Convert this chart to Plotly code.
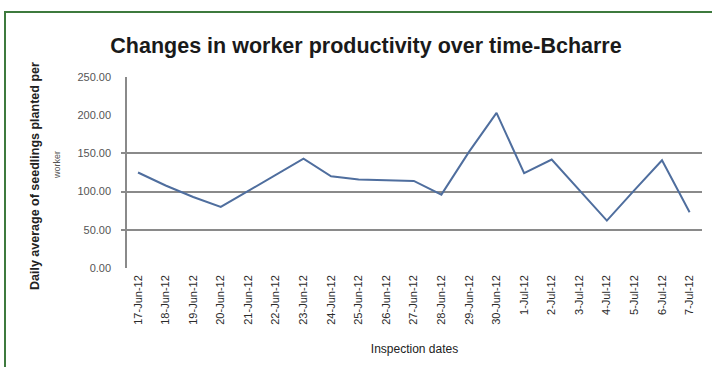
import plotly.graph_objects as go

# Inspection dates and daily average of seedlings planted per worker (Bcharre)
dates = [
    "17-Jun-12", "18-Jun-12", "19-Jun-12", "20-Jun-12", "21-Jun-12", "22-Jun-12",
    "23-Jun-12", "24-Jun-12", "25-Jun-12", "26-Jun-12", "27-Jun-12", "28-Jun-12",
    "29-Jun-12", "30-Jun-12", "1-Jul-12", "2-Jul-12", "3-Jul-12", "4-Jul-12",
    "5-Jul-12", "6-Jul-12", "7-Jul-12",
]
avg_seedlings = [125, 108, 93, 80, 101, 122, 143, 120, 116, 115, 114, 96,
                 152, 203, 124, 142, 102, 62, 102, 141, 73]

y_ticks = [0, 50, 100, 150, 200, 250]
y_grid = [50, 100, 150]

W, H = 712, 367
L, R, T, B = 127, 10, 77, 99
pw, ph = W - L - R, H - T - B


def px_x(px):
    return (px - L) / pw


def px_y(py):
    return (H - B - py) / ph


fig = go.Figure()
fig.add_trace(go.Scatter(
    x=list(range(len(dates))), y=avg_seedlings, mode="lines",
    line=dict(color="#4F6E9E", width=2), showlegend=False, hoverinfo="y",
))
# invisible trace to carry the gridline axis
fig.add_trace(go.Scatter(x=[0], y=[0], yaxis="y2", mode="markers",
                         marker=dict(opacity=0), showlegend=False, hoverinfo="skip"))

font = "Liberation Sans"
fig.update_layout(
    width=W, height=H,
    margin=dict(l=L, r=R, t=T, b=B),
    paper_bgcolor="white", plot_bgcolor="white",
    font=dict(family=font, color="#333"),
    title=dict(text="<b>Changes in worker productivity over time-Bcharre</b>",
               x=366 / W, xref="container", xanchor="center",
               y=1 - 45 / H, yref="container", yanchor="middle",
               font=dict(size=21.5, color="#1a1a1a", family=font)),
    xaxis=dict(
        range=[-0.4, 20.45], tickmode="array",
        tickvals=list(range(len(dates))), ticktext=dates,
        tickangle=-90, tickfont=dict(size=11, color="#2a2a2a"),
        ticklabelstandoff=4,
        showgrid=False, zeroline=False, showline=False, ticks="",
        title=dict(text="Inspection dates", font=dict(size=12, color="#222"), standoff=20),
    ),
    yaxis=dict(
        range=[0, 250], tickmode="array", tickvals=y_ticks,
        ticktext=[f"{v:.2f}" for v in y_ticks],
        tickfont=dict(size=11, color="#555"), ticklabelstandoff=12,
        showgrid=False, zeroline=False, showline=True,
        linecolor="#8a8a8a", linewidth=1.5, ticks="",
    ),
    yaxis2=dict(
        range=[0, 250], overlaying="y", side="left", tickmode="array",
        tickvals=y_grid, showticklabels=False, showgrid=True,
        gridcolor="#8a8a8a", gridwidth=1.5, zeroline=False, showline=False,
        ticks="outside", ticklen=5, tickcolor="#8a8a8a", tickwidth=1.5,
    ),
    annotations=[
        dict(text="<b>Daily average of seedlings planted per</b>", textangle=-90,
             x=px_x(35), y=px_y(176), xref="paper", yref="paper",
             xanchor="center", yanchor="middle",
             showarrow=False, font=dict(size=12.5, color="#222")),
        dict(text="worker", textangle=-90,
             x=px_x(57), y=px_y(165), xref="paper", yref="paper",
             xanchor="center", yanchor="middle",
             showarrow=False, font=dict(size=9, color="#555")),
    ],
    shapes=[
        dict(type="rect", xref="paper", yref="paper",
             x0=px_x(5), x1=px_x(W + 5), y0=px_y(H + 5), y1=px_y(12),
             line=dict(color="#3E7A3E", width=2), fillcolor="rgba(0,0,0,0)",
             layer="below"),
    ],
)

fig.write_html("out.html")
